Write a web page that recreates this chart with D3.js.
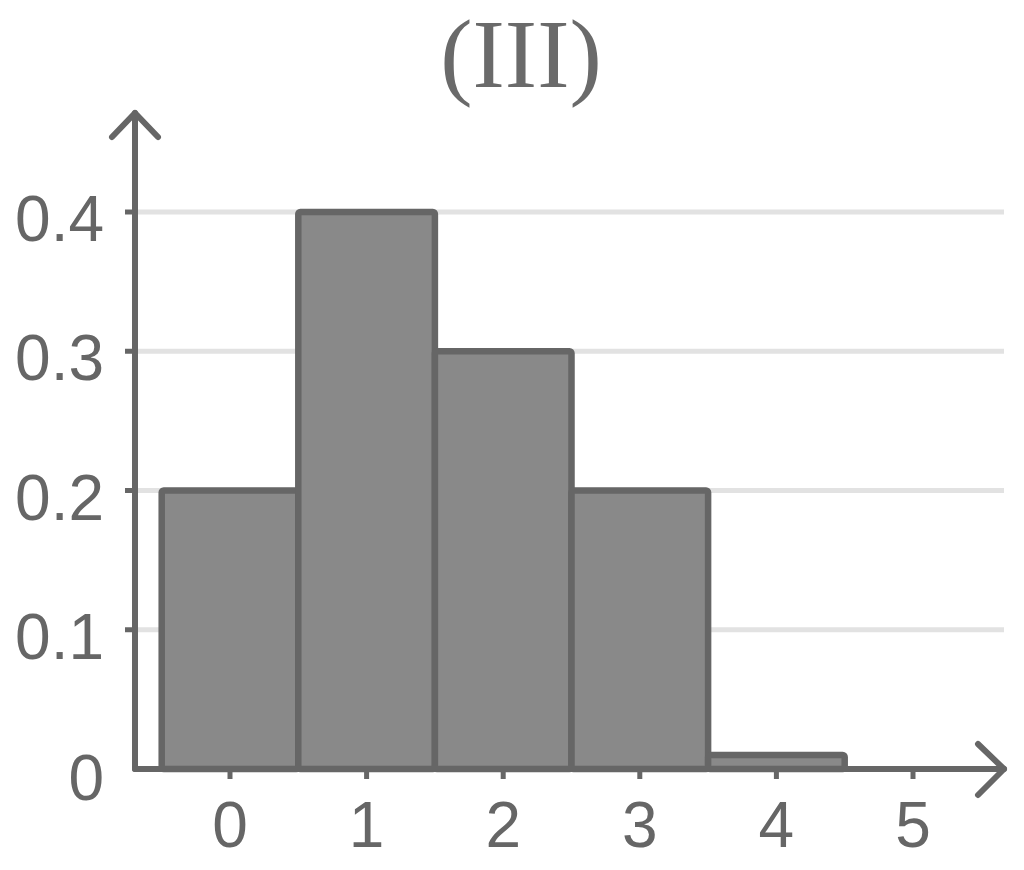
<!DOCTYPE html>
<html>
<head>
<meta charset="utf-8">
<script src="https://cdn.jsdelivr.net/npm/d3@7"></script>
<style>
  html, body { margin: 0; padding: 0; background: #ffffff; }
  svg { display: block; }
</style>
</head>
<body>
<script>
// Data
const categories = [0, 1, 2, 3, 4, 5];
const values = [0.2, 0.4, 0.3, 0.2, 0.01, 0];
const yTicks = [0, 0.1, 0.2, 0.3, 0.4];
const yTickLabels = ["0", "0.1", "0.2", "0.3", "0.4"];
const xTickLabels = ["0", "1", "2", "3", "4", "5"];
const title = "(III)";

const W = 1024, H = 870;
const svg = d3.select("body").append("svg").attr("width", W).attr("height", H);

const axisColor = "#666666";
const x = d3.scaleLinear().domain([0, 5]).range([230, 913]);
const y = d3.scaleLinear().domain([0, 0.4]).range([769, 212]);
const x0 = 135; // y-axis position
const xEnd = 1004;
const yTop = 113;

// Title
svg.append("text")
  .attr("x", 521).attr("y", 87)
  .attr("text-anchor", "middle")
  .attr("font-family", "'Liberation Serif', 'Times New Roman', serif")
  .attr("font-size", 97)
  .attr("fill", "#6a6a6a")
  .text(title);

// Gridlines
svg.append("g").selectAll("line")
  .data(yTicks.filter(d => d > 0))
  .join("line")
  .attr("x1", x0).attr("x2", xEnd)
  .attr("y1", d => y(d)).attr("y2", d => y(d))
  .attr("stroke", "#e2e2e2").attr("stroke-width", 5);

// Bars
const bars = categories.map((c, i) => ({ c, v: values[i] })).filter(d => d.v > 0);
svg.append("g").selectAll("rect")
  .data(bars)
  .join("rect")
  .attr("x", d => x(d.c - 0.5))
  .attr("width", d => x(d.c + 0.5) - x(d.c - 0.5))
  .attr("y", d => y(d.v))
  .attr("height", d => y(0) - y(d.v))
  .attr("rx", 2)
  .attr("fill", "#898989")
  .attr("stroke", "#666666")
  .attr("stroke-width", 6.5)
  .attr("stroke-linejoin", "round");

// Y-axis tick marks
svg.append("g").selectAll("line")
  .data(yTicks.filter(d => d > 0))
  .join("line")
  .attr("x1", x0 - 10).attr("x2", x0)
  .attr("y1", d => y(d)).attr("y2", d => y(d))
  .attr("stroke", axisColor).attr("stroke-width", 5);

// X-axis tick marks
svg.append("g").selectAll("line")
  .data(categories)
  .join("line")
  .attr("x1", d => x(d)).attr("x2", d => x(d))
  .attr("y1", y(0)).attr("y2", y(0) + 10)
  .attr("stroke", axisColor).attr("stroke-width", 5);

// Axes with arrows
const axes = svg.append("g")
  .attr("fill", "none")
  .attr("stroke", axisColor)
  .attr("stroke-width", 6)
  .attr("stroke-linecap", "round")
  .attr("stroke-linejoin", "round");
axes.append("path").attr("d", `M${x0},${y(0)} L${x0},${yTop}`);
axes.append("path").attr("d", `M${x0 - 23},${yTop + 24} L${x0},${yTop} L${x0 + 23},${yTop + 24}`);
axes.append("path").attr("d", `M${x0},${y(0)} L${xEnd},${y(0)}`);
axes.append("path").attr("d", `M${xEnd - 26},${y(0) - 25} L${xEnd},${y(0)} L${xEnd - 26},${y(0) + 26}`);

// Y tick labels
svg.append("g").selectAll("text")
  .data(yTicks)
  .join("text")
  .attr("x", 104)
  .attr("y", d => y(d) + (d === 0 ? 31 : 29))
  .attr("text-anchor", "end")
  .attr("font-family", "'Liberation Sans', Arial, sans-serif")
  .attr("font-size", 64)
  .attr("fill", axisColor)
  .text((d, i) => yTickLabels[i]);

// X tick labels
svg.append("g").selectAll("text")
  .data(categories)
  .join("text")
  .attr("x", d => x(d))
  .attr("y", 847)
  .attr("text-anchor", "middle")
  .attr("font-family", "'Liberation Sans', Arial, sans-serif")
  .attr("font-size", 64)
  .attr("fill", axisColor)
  .text((d, i) => xTickLabels[i]);
</script>
</body>
</html>
